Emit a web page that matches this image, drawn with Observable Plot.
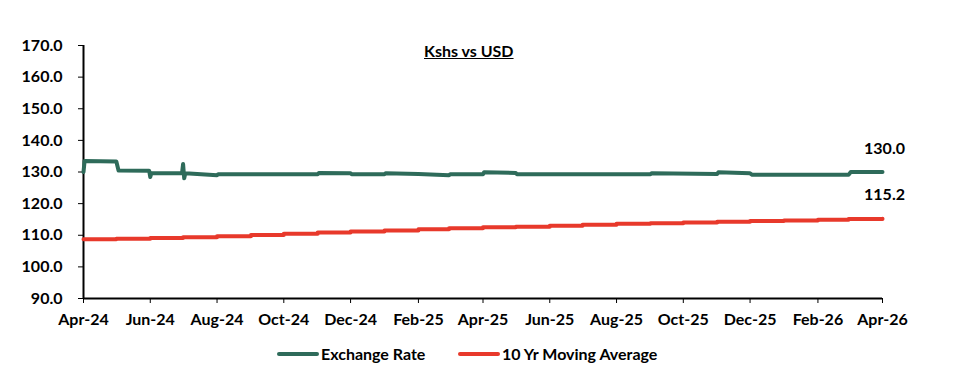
<!DOCTYPE html>
<html><head><meta charset="utf-8">
<script src="https://cdn.jsdelivr.net/npm/d3@7"></script>
<script src="https://cdn.jsdelivr.net/npm/@observablehq/plot@0.6"></script>
<style>
body{margin:0;background:#fff;font-family:Lato,"Open Sans",sans-serif;}
#wrap{position:relative;width:962px;height:386px;}
#title{position:absolute;left:424px;top:41px;font-weight:700;font-size:16px;text-decoration:underline;color:#000;}
#legend{position:absolute;top:344px;left:0;width:962px;font-weight:700;font-size:16px;}
.lg{position:absolute;display:flex;align-items:center;}
.sw{width:42px;height:4px;border-radius:2px;margin-right:2px;}
</style></head>
<body><div id="wrap"><div id="chart"></div><div id="title">Kshs vs USD</div>
<div id="legend"></div></div>
<script>
const seriesNames = ["Exchange Rate", "10 Yr Moving Average"];
const seriesColors = ["#2e6b5a", "#e8392b"];
const yTicks = [90,100,110,120,130,140,150,160,170];
const xTickDates = ["2024-04-01","2024-06-01","2024-08-01","2024-10-01","2024-12-01","2025-02-01","2025-04-01","2025-06-01","2025-08-01","2025-10-01","2025-12-01","2026-02-01","2026-04-01"];

const fxDates = ["2024-04-01","2024-04-02","2024-05-01","2024-05-03","2024-05-31","2024-06-01","2024-06-02","2024-06-30","2024-07-01","2024-07-02","2024-07-03","2024-08-01","2024-08-02","2024-11-01","2024-11-02","2024-12-01","2024-12-02","2025-01-01","2025-01-02","2025-02-01","2025-03-01","2025-03-02","2025-04-01","2025-04-02","2025-05-01","2025-05-02","2025-09-01","2025-09-02","2025-11-01","2025-11-02","2025-12-01","2025-12-03","2026-03-01","2026-03-03","2026-04-01"];
const fxValues = [130.0,133.5,133.3,130.5,130.4,128.4,129.6,129.6,132.5,128.0,129.6,129.0,129.3,129.3,129.7,129.6,129.3,129.3,129.6,129.4,129.0,129.3,129.3,129.9,129.7,129.3,129.3,129.6,129.4,129.9,129.6,129.1,129.1,130.0,130.0];

const maDates = ["2024-04-01","2024-05-01","2024-06-01","2024-07-01","2024-08-01","2024-09-01","2024-10-01","2024-11-01","2024-12-01","2025-01-01","2025-02-01","2025-03-01","2025-04-01","2025-05-01","2025-06-01","2025-07-01","2025-08-01","2025-09-01","2025-10-01","2025-11-01","2025-12-01","2026-01-01","2026-02-01","2026-03-01","2026-04-01"];
const maValues = [108.7,108.9,109.1,109.4,109.7,110.1,110.5,110.9,111.2,111.5,111.9,112.2,112.5,112.7,113.0,113.3,113.6,113.8,114.0,114.3,114.5,114.7,114.9,115.1,115.2];

const parse = d3.utcParse("%Y-%m-%d");
const fx = fxDates.map((d,i)=>({date:parse(d), value:fxValues[i]}));
const ma = maDates.map((d,i)=>({date:parse(d), value:maValues[i]}));
const fxLast = fx[fx.length-1], maLast = ma[ma.length-1];
const fmtM = d3.utcFormat("%b-%y");

const chart = Plot.plot({
  width: 962, height: 336,
  marginLeft: 83, marginRight: 80, marginTop: 45, marginBottom: 38,
  style: {fontFamily: "Lato, 'Open Sans', sans-serif", fontSize: "16px", fontWeight: 700, color: "#000", overflow: "visible"},
  x: {type: "utc", domain: [parse("2024-04-01"), parse("2026-04-01")], ticks: xTickDates.map(parse), tickFormat: fmtM, tickSize: 5, tickPadding: 10, label: null},
  y: {domain: [90,170], ticks: yTicks, tickFormat: d => d.toFixed(1), tickSize: 5, tickPadding: 16, label: null},
  marks: [
    Plot.ruleY([90], {stroke: "#000", strokeWidth: 2}),
    Plot.ruleX([parse("2024-04-01")], {stroke: "#000", strokeWidth: 2}),
    Plot.line(ma, {x: "date", y: "value", stroke: seriesColors[1], strokeWidth: 4, curve: "step-after"}),
    Plot.line(fx, {x: "date", y: "value", stroke: seriesColors[0], strokeWidth: 4}),
    Plot.text([fxLast], {x: "date", y: "value", text: d => d.value.toFixed(1), dy: -23, dx: 2, fontSize: 16, fontWeight: 700, fill: "#000"}),
    Plot.text([maLast], {x: "date", y: "value", text: d => d.value.toFixed(1), dy: -24, dx: 2, fontSize: 16, fontWeight: 700, fill: "#000"})
  ]
});
document.getElementById("chart").appendChild(chart);

const leg = document.getElementById("legend");
const lx = [277, 458];
seriesNames.forEach((n,i)=>{
  const el = document.createElement("div");
  el.className = "lg"; el.style.left = lx[i]+"px";
  el.innerHTML = `<span class="sw" style="background:${seriesColors[i]}"></span><span>${n}</span>`;
  leg.appendChild(el);
});
</script></body></html>
